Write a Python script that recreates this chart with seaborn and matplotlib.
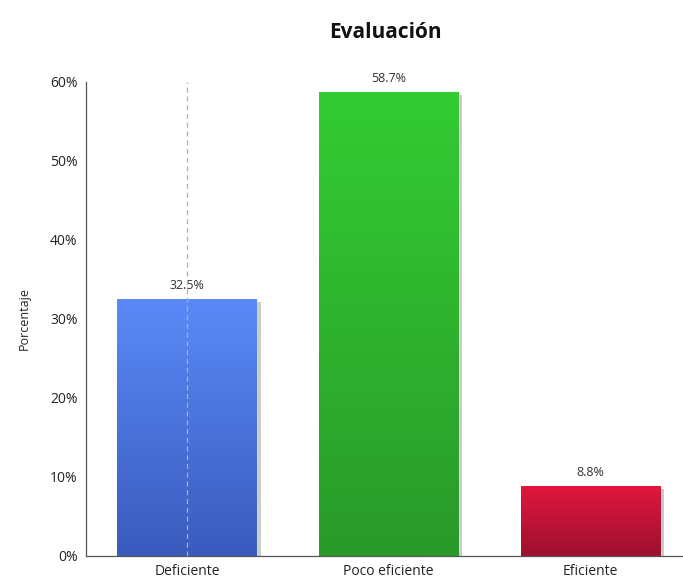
import numpy as np
import pandas as pd
import matplotlib
matplotlib.use("Agg")
import matplotlib.pyplot as plt
import matplotlib.patheffects as pe
from matplotlib.colors import LinearSegmentedColormap
import seaborn as sns

categorias = ["Deficiente", "Poco eficiente", "Eficiente"]
porcentajes = [32.5, 58.7, 8.8]
colores_top = ["#5a8af8", "#33cc33", "#e2163e"]
colores_bottom = ["#3a5bbd", "#2a9a2a", "#9c1030"]
yticks = [0, 10, 20, 30, 40, 50, 60]

sns.set_style("white")
plt.rcParams["font.family"] = ["Open Sans", "DejaVu Sans"]

df = pd.DataFrame({"Evaluación": categorias, "Porcentaje": porcentajes})

fig = plt.figure(figsize=(6.83, 5.84), dpi=100)
ax = fig.add_axes([0.126, 0.048, 0.874, 0.812])

sns.barplot(data=df, x="Evaluación", y="Porcentaje", hue="Evaluación",
            palette=colores_top, width=0.69, legend=False, ax=ax,
            saturation=1)

# gradiente vertical dentro de cada barra, con sombra
for bar, c1, c2 in zip(ax.patches, colores_top, colores_bottom):
    x0, y0 = bar.get_x(), bar.get_y()
    w, h = bar.get_width(), bar.get_height()
    cmap = LinearSegmentedColormap.from_list("g", [c2, c1])
    grad = np.linspace(0, 1, 256).reshape(-1, 1)
    bar.set_path_effects([pe.SimplePatchShadow(offset=(3, -2), alpha=0.3,
                                               shadow_rgbFace="#555555"),
                          pe.Normal()])
    im = ax.imshow(grad, cmap=cmap, aspect="auto", origin="lower",
                   extent=[x0, x0 + w, y0, y0 + h], zorder=bar.get_zorder() + 0.1)
    im.set_clip_path(bar)

for cont in ax.containers:
    ax.bar_label(cont, fmt="%.1f%%", padding=5, fontsize=9, color="#333333")

ax.axvline(0, color="#b0b0b0", linestyle=(0, (4, 3)), linewidth=0.9, zorder=5)

ax.set_xlim(-0.5, 2.46)
ax.set_ylim(0, 60)
ax.set_yticks(yticks)
ax.set_yticklabels([f"{v}%" for v in yticks])
ax.tick_params(axis="both", labelsize=10, colors="#222222", length=0, pad=6)
ax.set_xlabel("")
ax.set_ylabel("Porcentaje", fontsize=9, labelpad=14, color="#222222")

for s in ["top", "right"]:
    ax.spines[s].set_visible(False)
for s in ["left", "bottom"]:
    ax.spines[s].set_color("#555555")
    ax.spines[s].set_linewidth(0.9)

fig.text(0.565, 0.945, "Evaluación", ha="center", va="center",
         fontsize=15, fontweight="bold", color="#111111")

fig.savefig("out.png", dpi=100)
